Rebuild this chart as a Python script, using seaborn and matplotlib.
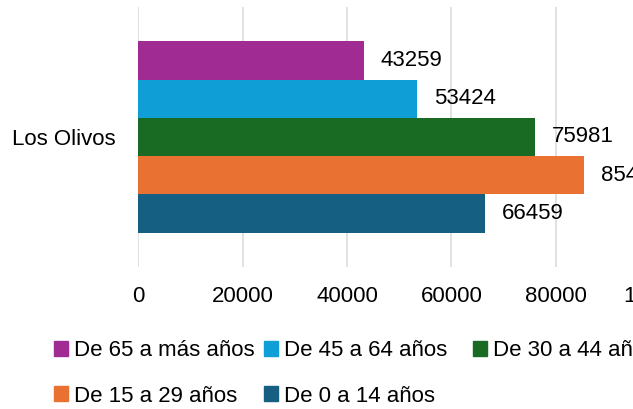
import pandas as pd
import matplotlib.pyplot as plt
import seaborn as sns
from matplotlib.patches import Patch

# Data (orange value is cut off in the reference)
district = ["Los Olivos"]
age_groups = ["De 65 a más años", "De 45 a 64 años", "De 30 a 44 años",
              "De 15 a 29 años", "De 0 a 14 años"]
population = [43259, 53424, 75981, 85420, 66459]
colors = ["#A02B93", "#0F9ED5", "#196B24", "#E97132", "#156082"]

df = pd.DataFrame({
    "Distrito": district * len(age_groups),
    "Grupo": age_groups,
    "Poblacion": population,
})

sns.set_style("white")
plt.rcParams['font.family'] = ['Liberation Sans', 'DejaVu Sans']
plt.rcParams['text.color'] = 'black'

fig = plt.figure(figsize=(6.33, 4.09), dpi=100)
# axes runs past the right edge, like the cropped original
ax = fig.add_axes([0.2185, 0.3472, 0.8243, 0.6357])

sns.barplot(data=df, y="Distrito", x="Poblacion", hue="Grupo",
            hue_order=age_groups, palette=colors, orient="h",
            width=0.735, saturation=1, legend=False, linewidth=0, ax=ax)

for cont in ax.containers:
    ax.bar_label(cont, padding=12, fontsize=16, color="black")

ax.set_xlim(0, 100000)
ax.set_xticks([0, 20000, 40000, 60000, 80000, 100000])
ax.xaxis.grid(True, color="#d9d9d9", linewidth=1.1)
ax.set_axisbelow(True)
ax.set_xlabel("")
ax.set_ylabel("")
ax.tick_params(axis="x", length=0, pad=14, labelsize=16, labelcolor="black")
ax.tick_params(axis="y", length=0, pad=16.5, labelsize=16, labelcolor="black")
sns.despine(ax=ax, left=True, bottom=True)

# legend entries placed one by one (two rows, third entry cut off)
legend_pos = [(54, 351), (264, 351), (473, 351), (54, 396), (264, 396)]
for lab, col, (px, py) in zip(age_groups, colors, legend_pos):
    fig.legend(handles=[Patch(color=col, label=lab)], loc="center left",
               bbox_to_anchor=(px / 633, 1 - py / 409), frameon=False,
               fontsize=16, handlelength=0.63, handleheight=0.63,
               handletextpad=0.27, borderpad=0, borderaxespad=0,
               labelcolor="black")

fig.savefig("out.png", dpi=100)
